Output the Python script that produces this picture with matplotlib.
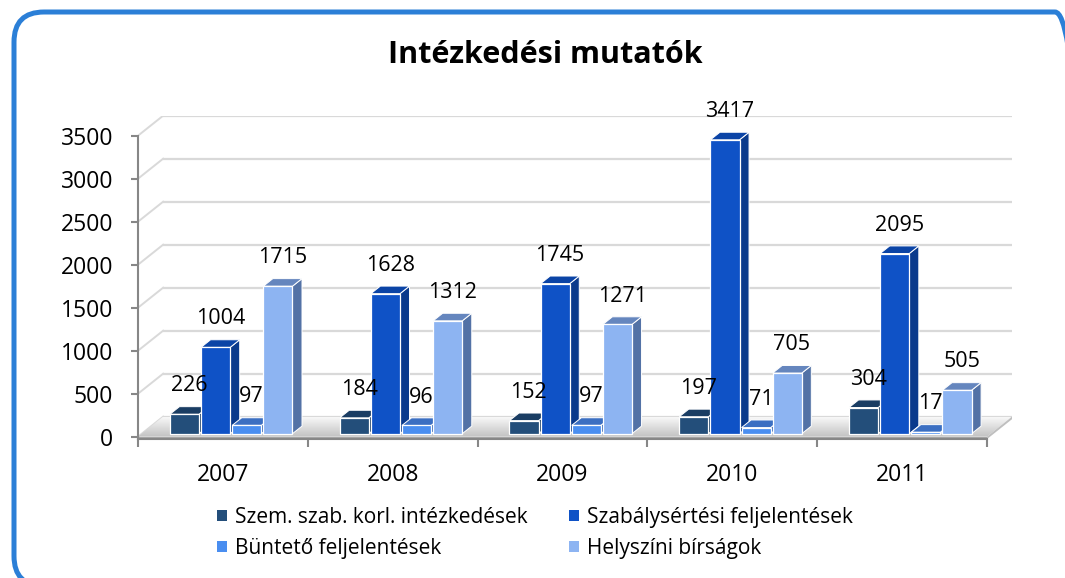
import numpy as np
import matplotlib
matplotlib.use('Agg')
import matplotlib.pyplot as plt
from matplotlib.patches import Polygon, Patch, FancyBboxPatch
from matplotlib.transforms import IdentityTransform

plt.rcParams['font.family'] = ['Open Sans', 'DejaVu Sans']

# data
years = ['2007', '2008', '2009', '2010', '2011']
szem = [226, 184, 152, 197, 304]
szab = [1004, 1628, 1745, 3417, 2095]
bunt = [97, 96, 97, 71, 17]
hely = [1715, 1312, 1271, 705, 505]
series_names = ['Szem. szab. korl. intézkedések', 'Szabálysértési feljelentések',
                'Büntető feljelentések', 'Helyszíni bírságok']
yticks = [0, 500, 1000, 1500, 2000, 2500, 3000, 3500]

# colours: front, top, side
front_c = ['#234E7A', '#0F52C6', '#4A8EF0', '#8DB4F2']
top_c = ['#1A3D63', '#0B44A6', '#3B6FC2', '#6586BE']
side_c = ['#183A5E', '#0A3A8C', '#3564B2', '#5372A6']

W, H = 1065, 578
fig = plt.figure(figsize=(W / 100, H / 100), dpi=100)

# pixel layout of the plot box
px_left, px_right = 138, 1012
px_zero, px_top = 436.7, 115.7
px_per_val = 301 / 3500.0
DX_px, DY_px = 25, 20
ymin_px = 2.5  # floor slab thickness below 0

val_per_px = 1 / px_per_val
DYv = DY_px * val_per_px
n = len(years)
xmax = n + DX_px / ((983 - 138) / n)
DXu = xmax - n
ymin = -ymin_px * val_per_px
ymax = 3500 + DYv

ax = fig.add_axes([px_left / W, 1 - (px_zero + ymin_px) / H,
                   (px_right - px_left) / W, (px_zero + ymin_px - px_top) / H])
ax.set_xlim(0, xmax)
ax.set_ylim(ymin, ymax)
ax.patch.set_alpha(0)


def P(x, v, z):
    return (x + z * DXu, v + z * DYv)


# back wall / side wall gridlines
grid_c = '#D9D9D9'
for v in yticks:
    ax.plot([DXu, n + DXu], [v + DYv, v + DYv], color=grid_c, lw=1.6, zorder=1, solid_capstyle='butt')
    ax.plot([0, DXu], [v, v + DYv], color=grid_c, lw=1.4, zorder=1)

# floor with a soft gradient
floor = Polygon([P(0, 0, 0), P(n, 0, 0), P(n, 0, 1), P(0, 0, 1)], closed=True,
                facecolor='none', edgecolor='none', zorder=2)
ax.add_patch(floor)
grad = np.linspace(0.76, 0.97, 64).reshape(-1, 1)
im = ax.imshow(grad, cmap='gray', vmin=0, vmax=1, aspect='auto', origin='lower',
               extent=[0, n + DXu, 0, DYv], zorder=2, interpolation='bilinear')
im.set_clip_path(floor)
ax.add_patch(Polygon([(0, 0), (n, 0), (n, ymin), (0, ymin)], closed=True,
                     facecolor='#A6A6A6', edgecolor='none', zorder=3, clip_on=False))
ax.add_patch(Polygon([(n, 0), P(n, 0, 1), (n + DXu, DYv + ymin), (n, ymin)], closed=True,
                     facecolor='#BFBFBF', edgecolor='none', zorder=3, clip_on=False))

# bars
cpx = (983 - 138) / n
off = 28 / cpx
step = 31 / cpx
bw = 29 / cpx
z0, z1 = 0.15, 0.53
series = [szem, szab, bunt, hely]
for i in range(n):
    for k, vals in enumerate(series):
        v = vals[i]
        xl = i + off + k * step
        xr = xl + bw
        zo = 4 + i * 0.1 + k * 0.01
        ax.add_patch(Polygon([P(xr, 0, z0), P(xr, 0, z1), P(xr, v, z1), P(xr, v, z0)],
                             closed=True, facecolor=side_c[k], edgecolor='white', lw=0.7, zorder=zo))
        ax.add_patch(Polygon([P(xl, v, z0), P(xr, v, z0), P(xr, v, z1), P(xl, v, z1)],
                             closed=True, facecolor=top_c[k], edgecolor='white', lw=0.7, zorder=zo))
        ax.add_patch(Polygon([P(xl, 0, z0), P(xr, 0, z0), P(xr, v, z0), P(xl, v, z0)],
                             closed=True, facecolor=front_c[k], edgecolor='white', lw=0.9, zorder=zo + 0.005))
        lx = xl + bw / 2 + (z0 + z1) / 2 * DXu
        ax.text(lx, v + 365, str(v), ha='center', va='center', fontsize=15.5,
                color='black', zorder=10)

# axes styling
for s in ['top', 'right']:
    ax.spines[s].set_visible(False)
ax.spines['left'].set_bounds(ymin, 3500)
ax.spines['bottom'].set_bounds(0, n)
for s in ['left', 'bottom']:
    ax.spines[s].set_color('#878787')
    ax.spines[s].set_linewidth(1.5)
    ax.spines[s].set_zorder(3.5)
ax.set_yticks(yticks)
ax.set_yticklabels([str(t) for t in yticks])
ax.tick_params(axis='y', length=5, width=1.5, color='#878787', labelsize=16.5, pad=13)
ax.set_xticks(range(n + 1))
ax.set_xticklabels([''] * (n + 1))
ax.tick_params(axis='x', which='major', length=6, width=1.5, color='#878787')
ax.set_xticks([i + 0.5 for i in range(n)], minor=True)
ax.set_xticklabels(years, minor=True)
ax.tick_params(axis='x', which='minor', length=0, labelsize=16.5, pad=17)

# title
fig.text(545 / W, 1 - 55 / H, 'Intézkedési mutatók', ha='center', va='center',
         fontsize=22, fontweight='bold')

# legend (row-wise order)
handles = [Patch(facecolor=front_c[k], edgecolor='none') for k in range(4)]
order = [0, 2, 1, 3]
fig.legend([handles[k] for k in order], [series_names[k] for k in order], ncol=2,
           loc='center', bbox_to_anchor=(535 / W, 1 - 533 / H), frameon=False,
           fontsize=15, handlelength=0.45, handleheight=0.45, handletextpad=0.4,
           columnspacing=2.0, labelspacing=0.5)

# rounded blue frame (right and bottom edges run off the picture)
frame = FancyBboxPatch((14, -8), 1071, 574, boxstyle='round,pad=0,rounding_size=30',
                       transform=IdentityTransform(), facecolor='none',
                       edgecolor='#2B7FD7', linewidth=3.6)
fig.add_artist(frame)

fig.savefig('out.png', dpi=100)
